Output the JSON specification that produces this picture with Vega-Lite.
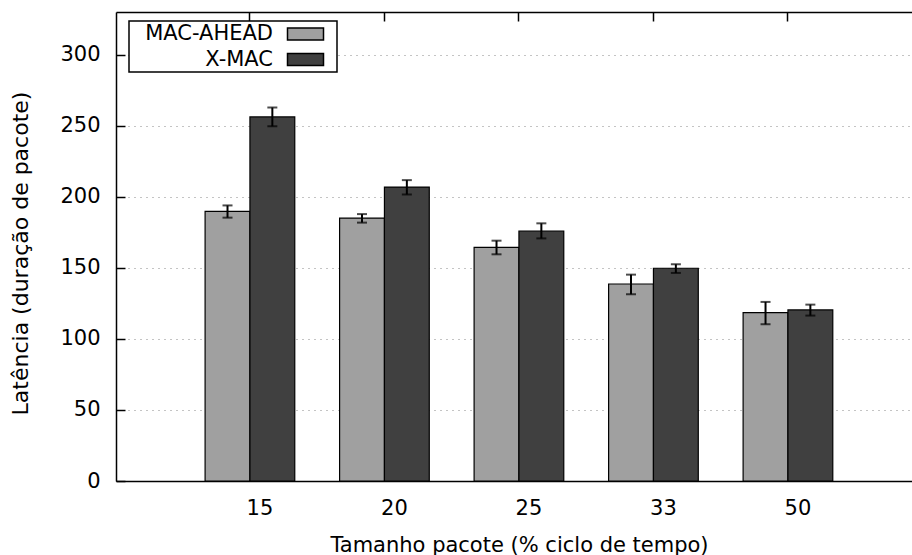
{
  "$schema": "https://vega.github.io/schema/vega-lite/v6.json",
  "width": 796,
  "height": 469,
  "autosize": {"type": "none"},
  "padding": {"left": 116, "top": 12, "right": 0, "bottom": 74},
  "background": "white",
  "config": {
    "font": "DejaVu Sans",
    "view": {"stroke": null},
    "axis": {"labelFont": "DejaVu Sans", "titleFont": "DejaVu Sans", "labelFontSize": 21, "titleFontSize": 21, "titleFontWeight": "normal", "labelColor": "black", "titleColor": "black"},
    "legend": {"labelFont": "DejaVu Sans", "labelFontSize": 21}
  },
  "data": {
    "values": [
      {"size": "15", "protocol": "MAC-AHEAD", "lat": 189.7, "lo": 185.3, "hi": 193.9},
      {"size": "15", "protocol": "X-MAC", "lat": 256.2, "lo": 249.6, "hi": 262.8},
      {"size": "20", "protocol": "MAC-AHEAD", "lat": 185.0, "lo": 181.8, "hi": 187.8},
      {"size": "20", "protocol": "X-MAC", "lat": 206.8, "lo": 201.6, "hi": 211.7},
      {"size": "25", "protocol": "MAC-AHEAD", "lat": 164.4, "lo": 159.5, "hi": 169.1},
      {"size": "25", "protocol": "X-MAC", "lat": 175.9, "lo": 170.7, "hi": 181.3},
      {"size": "33", "protocol": "MAC-AHEAD", "lat": 138.6, "lo": 131.4, "hi": 145.2},
      {"size": "33", "protocol": "X-MAC", "lat": 149.7, "lo": 146.4, "hi": 152.5},
      {"size": "50", "protocol": "MAC-AHEAD", "lat": 118.5, "lo": 110.3, "hi": 126.0},
      {"size": "50", "protocol": "X-MAC", "lat": 120.4, "lo": 116.4, "hi": 124.1}
    ]
  },
  "resolve": {"axis": {"x": "independent"}},
  "layer": [
    {
      "mark": {"type": "bar", "stroke": "black", "strokeWidth": 1.2},
      "encoding": {
        "x": {"field": "size", "type": "nominal", "sort": null,
          "scale": {"type": "band", "paddingInner": 0, "paddingOuter": 0.459, "align": 0.54},
          "axis": {"orient": "bottom", "title": "Tamanho pacote (% ciclo de tempo)", "labelAngle": 0, "labelPadding": 25, "labelOffset": 10, "tickSize": -9, "tickColor": "black", "tickWidth": 1.5, "domainColor": "black", "domainWidth": 1.5, "titlePadding": 16, "titleX": 403, "grid": false}},
        "xOffset": {"field": "protocol", "type": "nominal", "sort": ["MAC-AHEAD", "X-MAC"], "scale": {"paddingOuter": 0.5, "paddingInner": 0}},
        "y": {"field": "lat", "type": "quantitative",
          "scale": {"domain": [0, 330], "nice": false},
          "axis": {"title": "Latência (duração de pacote)", "values": [0, 25, 50, 75, 100, 125, 150, 175, 200, 225, 250, 275, 300, 325],
            "labelExpr": "datum.value % 50 === 0 ? datum.label : ''",
            "tickSize": {"condition": {"test": "datum.value % 50 === 0", "value": -9}, "value": -4},
            "tickColor": "black", "tickWidth": 1.5, "labelPadding": 25, "titlePadding": 27, "titleFontSize": 22, "titleY": 241,
            "domainColor": "black", "domainWidth": 1.5,
            "grid": true, "gridDash": [1, 5], "gridColor": "#888888", "gridWidth": 1}},
        "color": {"field": "protocol", "type": "nominal", "sort": ["MAC-AHEAD", "X-MAC"],
          "scale": {"domain": ["MAC-AHEAD", "X-MAC"], "range": ["#a0a0a0", "#404040"]},
          "legend": {"title": null, "orient": "none", "legendX": 13, "legendY": 9,
            "strokeColor": "black", "fillColor": "white", "padding": 2.5,
            "symbolType": "M-3,-1L3,-1L3,1L-3,1ZM4.33,0", "symbolSize": 144, "symbolOffset": 163.5,
            "symbolStrokeColor": "black", "symbolStrokeWidth": 1.5,
            "labelAlign": "right", "labelOffset": -43, "rowPadding": 3.5,
            "encode": {"legend": {"update": {"strokeWidth": {"value": 1.5}}}}}}
      }
    },
    {
      "mark": {"type": "rule", "color": "black", "strokeWidth": 2},
      "encoding": {
        "x": {"field": "size", "type": "nominal", "sort": null,
          "axis": {"orient": "top", "labels": false, "title": null, "tickSize": -9, "tickColor": "black", "tickWidth": 1.5, "domainColor": "black", "domainWidth": 1.5, "grid": false}},
        "xOffset": {"field": "protocol", "type": "nominal", "sort": ["MAC-AHEAD", "X-MAC"]},
        "y": {"field": "lo", "type": "quantitative"},
        "y2": {"field": "hi"}
      }
    },
    {
      "mark": {"type": "tick", "color": "black", "size": 10, "thickness": 2},
      "encoding": {
        "x": {"field": "size", "type": "nominal", "sort": null, "axis": null},
        "xOffset": {"field": "protocol", "type": "nominal", "sort": ["MAC-AHEAD", "X-MAC"]},
        "y": {"field": "lo", "type": "quantitative"}
      }
    },
    {
      "mark": {"type": "tick", "color": "black", "size": 10, "thickness": 2},
      "encoding": {
        "x": {"field": "size", "type": "nominal", "sort": null, "axis": null},
        "xOffset": {"field": "protocol", "type": "nominal", "sort": ["MAC-AHEAD", "X-MAC"]},
        "y": {"field": "hi", "type": "quantitative"}
      }
    }
  ]
}
